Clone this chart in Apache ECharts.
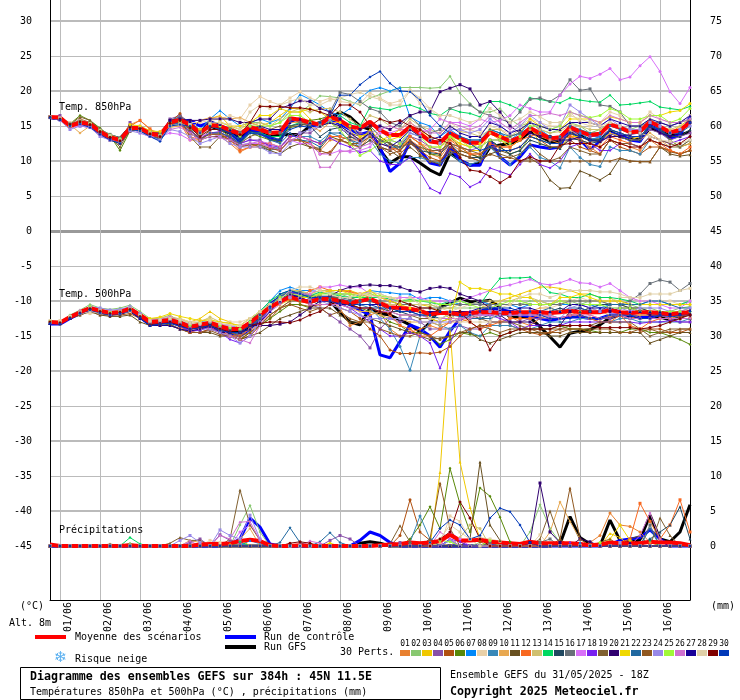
<!DOCTYPE html>
<html>
<head>
<meta charset="utf-8">
<style>html,body{margin:0;padding:0;background:#fff}#chart{width:740px;height:700px}</style>
<script src="https://cdn.jsdelivr.net/npm/echarts@6/dist/echarts.min.js"></script>
</head>
<body>
<div id="chart"></div>
<script>
const dayLabels = ['01/06','02/06','03/06','04/06','05/06','06/06','07/06','08/06','09/06','10/06','11/06','12/06','13/06','14/06','15/06','16/06'];
const leftTicks = [30,25,20,15,10,5,0,-5,-10,-15,-20,-25,-30,-35,-40,-45];
const rightTicks = [75,70,65,60,55,50,45,40,35,30,25,20,15,10,5,0];
const heavyLines = [30,20,10,-10,-20,-30,-40];
const memberIds = ['01','02','03','04','05','06','07','08','09','10','11','12','13','14','15','16','17','18','19','20','21','22','23','24','25','26','27','28','29','30'];
const memberColors = ['#e88030','#88c870','#f0c800','#8850a8','#b05010','#588808','#0088f8','#e8d0a8','#3888b8','#e8a850','#685020','#f86820','#d0c070','#00d860','#204860','#687078','#d870f8','#7820f0','#806030','#300070','#f0d800','#2068a0','#905820','#9888e8','#a0f838','#d070d0','#180098','#e0d0a8','#800000','#0038b8'];

// 850 hPa, one value per 6 h
const t850Mean = [16.3, 16.2,15.0,15.5,15.3, 14.2,13.4,13.0,14.7, 14.7,13.9,13.7,15.5, 15.9,15.2,14.0,15.1, 15.0,14.4,13.9,14.8, 14.5,14.0,14.1,16.1, 15.9,15.5,15.2,16.3, 15.8,14.9,14.7,15.6, 14.4,13.7,13.7,14.9, 13.9,12.8,12.6,14.0, 13.2,12.6,12.6,14.1, 13.5,12.8,13.4,14.7, 14.0,13.2,13.4,14.8, 14.2,13.7,13.9,15.2, 14.8,14.1,14.2,15.6, 14.9,14.1,14.4,15.5];
const t850Control = [16.2, 16,15.2,15.7,15, 14,13.2,12.8,14.5, 14.5,13.8,13.2,15.7, 15.8,15.8,15,15.5, 15,14,12.8,14.5, 14,13.2,12.8,15.8, 16,15,15.2,16, 15.3,14.5,13.8,14.2, 12,8.5,9.7,12.8, 11.6,9.7,9.4,12, 10.1,9.4,9.4,13, 10.6,9.4,10.6,12.3, 12,11.8,12,15.1, 13,11.6,12.8,14, 13.7,13,12.8,15.1, 14.4,13.2,13.7,16.3];
const t850Gfs = [16.2, 16,15.2,15.6,15.4, 14.3,13.6,13.2,14.8, 14.6,13.9,13.6,15.6, 15.6,15,14.2,15, 14.5,14,13.5,14.5, 14,13.5,13.7,13.8, 13.8,15,15.5,16, 17,16.3,15,14.5, 11.6,9.7,10.6,10.6, 9.7,8.7,8,11.1, 10.1,9.4,9.7,12, 12.3,12.5,13,14.2, 13.5,12.8,12.8,14, 13.7,13,13,14.2, 13.5,13.2,13,14.7, 14.2,13.7,13.7,14.2];
const t850M01 = [16.3, 16,15,15.5,15, 14,13.5,13,14.5, 15,14,13.5,15, 15.5,13,13,14, 13.5,12.5,11.3,12, 12,11.8,11.5,13, 13,12.5,11.5,13, 13,12.3,12,13.5, 12,11.5,12,13, 12,11,10.5,12.5, 11.5,11,11,12, 12,12,13,14.5, 13.5,13,12.5,14, 13,12,11,13, 12.5,12,11.5,13, 12,11.5,11,11.5];
const t850M02 = [16.3, 16,15.5,15.5,15.3, 14.5,13.5,13,15, 14.5,14,13.5,15.5, 16,15,13.5,15.5, 15,14.5,14,15.5, 15.5,15,15.5,17, 17,18,19.3,19.2, 19,18.5,18,19, 19.5,20,20.5,20.5, 20.5,20.4,20.5,22.1, 19.7,18.2,17,17, 17.5,16,15,15.5, 14.5,14,14.5,15.5, 15,14,14.5,15.5, 15,14.5,15,16, 15,14,14.5,15];
const t850M03 = [16.3, 16,15,15.5,15.5, 14.5,13.5,13,15, 15,14.3,14,15, 15.5,15,14,16, 16.5,15,14.5,15.5, 15,15.5,16.5,17.5, 17.5,16,15,15.5, 15,14,13,14.5, 13,13,13.5,15, 14.5,13.5,12,13.5, 12,11.5,11.5,14, 13,12,13,15, 12.5,12,12,13.5, 13.5,13,13,14, 13.5,13,13.5,15, 14.5,14,15,16];
const t850M04 = [16.2, 16.5,15.2,15,14.8, 13.8,13,12.5,15.5, 14.5,13.7,13.5,16, 16.5,15.5,13,14.5, 14.5,13.5,12.5,13, 13,12,11.8,13.5, 14,14,15,17, 16,15,14,13.5, 12,11.5,12.5,13.5, 13,12,11.5,12.5, 12,11.5,12,13, 13,13.5,14,15.5, 14.5,13,13,14, 14,13.5,13.5,14.5, 14,13.5,13.5,14.5, 14,13,13.5,14];
const t850M05 = [16.3, 16,15,16,15.5, 14.5,13.5,12.5,14.5, 14.5,13.7,13.5,15.5, 16.8,14,13,14, 14,13.5,12,12.5, 12.5,12,11.5,13, 13,12.5,11,11.3, 13,13.5,13,14, 13,12,11,12.5, 11.5,10.5,10,12, 11,10.5,10,12, 11.5,11.5,12,13.5, 13,12,12,13, 12,11.5,11,13, 12,11.5,11,12, 12,11.5,11,11.5];
const t850M06 = [16.2, 16,15.3,16.5,15.8, 14.7,13.6,11.5,14.3, 14.5,13.8,13.2,15, 15.5,14.5,12.8,14.5, 14.5,13.5,12.5,14, 13.5,13,12.8,14.8, 15,15.8,16,16.5, 16,15,14.5,15, 13.5,12.5,12,13.5, 12.5,11,10.8,13.5, 12,11,10.5,13, 12,11,11.5,13.5, 13,12.5,12.5,14, 13.5,13,13,14.5, 14,13.5,13.5,15, 14.5,13,12,12.5];
const t850M07 = [16.3, 16,15.2,15.6,15.2, 14,13.5,13.2,14.8, 15,14.2,14,15.8, 16.3,15.5,14.5,16, 17.2,16,15,15.5, 16,15.5,16,17.5, 19.5,18.8,18,17, 16.5,17.5,19,20.1, 20.5,20,20.5,16.3, 15.5,15,13.5,14.5, 13.5,13,13,14.5, 14,13,14,15.5, 14.5,13.5,13.5,15, 14,13,13.5,15.5, 14.5,14,14,15.5, 15,14,14.5,15.5];
const t850M08 = [16.3, 16.2,15.5,15.8,15.5, 14.5,13.8,13.2,15, 15,14.2,14.2,15.2, 15.5,15.5,15.5,15.8, 16,16.5,16,18, 19.2,18.5,18,19, 19.9,19,18.5,19, 18.5,18.3,18.2,19.7, 19,18.2,18.6,20.1, 18.2,17.5,16,15.5, 14.5,14.5,14,15, 14.5,14,15,16, 15.5,15,15,17, 15.5,15,15.5,17, 16.5,15.5,15.5,17, 16,15.5,15.5,16.5];
const t850M09 = [16.3, 16,15,15.4,15, 14,13.2,12.8,14.4, 14.5,13.5,13.2,15, 15.2,14.5,13,14, 14,13,12.3,12.5, 12.3,11.5,12,13.5, 13.5,13.5,12.8,14, 13.5,13,12,13, 11,10,9.7,10.5, 10.5,10,9.7,11, 10,9.5,10,12, 10.5,9.5,11,12, 10.5,10,9,12, 10.5,9.5,9.2,12, 11.5,11.5,11,13, 12.5,12,12,13];
const t850M10 = [16.2, 16.2,15.2,14,15, 14.2,13.5,13,15.2, 15.8,14.5,14,14.8, 15,14.5,15.8,16.2, 16.3,16,16.2,15.5, 15,14,14,15.5, 15.5,15,14.3,15.5, 15.5,14.5,12.5,13.5, 12,11.5,12.5,13.5, 12.5,12,12,13, 12.5,12,12.5,14, 13.5,13,13.5,14.5, 14,13,13.5,14.5, 13.5,11.5,12.5,14, 13.5,13,13,14, 13,12,12,12.5];
const t850M11 = [16.3, 16,15,15.5,15.2, 14,13,12.5,14.2, 14.5,13.5,13.5,15.5, 15.7,14,13,13.5, 13.5,13.5,12,12.5, 12,11.5,11,12, 12.5,12,11.8,13.5, 13,12.5,12,13, 12,11.5,10.5,12, 10.8,10,9.5,11, 11.5,11,10.5,11, 11.5,11,10,10.4, 9.5,7.3,6.1,6.2, 8.6,8,7.3,8.2, 10.4,10,9.9,9.9, 12,11,10.7,10.9];
const t850M12 = [16.3, 16,15,15.5,15.2, 14.2,13.3,13,15, 15.8,14.6,13.5,15.2, 15.5,13.5,13,14, 14,13,11.5,12, 12.5,12.5,12,13.5, 13.5,13,12.5,13.5, 13.5,13,13,14, 12.5,12,11.5,13.5, 12.5,11.5,11,13, 12,11,11,12.5, 12,12,13,13.5, 14,13.5,13,13.5, 13,12.5,12,13.5, 13,12.5,12,13, 12.5,11.5,11,12];
const t850M13 = [16.3, 16.2,15.2,15.5,15.3, 14.3,13.6,13.2,14.5, 14.5,14,14,15, 15.2,14.8,14.5,15.2, 15.5,15,14,15, 15.5,15,16,17, 17.5,17,17.5,17.5, 17,16,15,16.5, 16,15,14.5,16, 15,14.5,14,15, 14.2,14,13.5,14.5, 14.5,13.5,14.5,15.5, 14.5,14,14.2,15.2, 15,14.5,14.5,15.5, 15,14.5,14.5,16, 15,14.5,15,15.5];
const t850M14 = [16.3, 16,15.1,15.5,15.2, 14.3,13.5,12.8,14.8, 14.6,13.5,13.5,15.5, 15.5,15,13.5,15, 14.5,14,13,14, 14,13.5,13.5,15, 15.5,15.5,15.5,15.5, 16.5,15.5,15,17.7, 17.5,17.3,17.8,18, 17.5,16.8,16.5,17.5, 17,16.8,16.3,18.5, 18.5,18,17.3,19, 18.8,18.5,18.3,19, 18.7,18.5,18.4,19.4, 18,18.1,18.3,18.5, 17.7,17.5,17.3,17.8];
const t850M15 = [16.2, 16,15,15.2,15, 14,13.2,12.8,14.5, 14.5,13.6,13,15.2, 15.5,15,13.8,15, 14.8,14,12.8,14.2, 14,13,13.2,15, 15.3,15,13.5,14.5, 14.8,13.5,12.8,14, 13,12.5,11.5,13, 11.5,11.2,11,12.5, 11,10.5,10.5,13, 12,11,11.5,13, 12.5,12,11.8,13.2, 13,12.5,12.8,14.5, 13.5,13,13,15, 14.5,13.5,13.5,14.5];
const t850M16 = [16.3, 16,15.3,15.7,15.5, 14.5,13.8,13.3,15, 14.8,14.2,13.8,15.8, 16.3,15.6,14.2,15.3, 15.2,14.7,14.2,15, 14.8,14.2,14,16, 15.5,15.3,15.5,17, 19.8,19.5,18.5,17.5, 17,15.5,15,16.5, 15,14,14.5,17.5, 18,18,17,16.5, 16,15.5,17,18.8, 19,18.5,19.4,21.6, 20.1,20.3,18,17.8, 17,15,15,15.5, 15.5,15,15.5,16];
const t850M17 = [16.3, 16,14.8,15,14.8, 13.8,13,13,14.8, 14,13.5,13.5,14, 13.8,13,13.5,14, 13.5,13,12,12.5, 12.5,12,11.5,13, 12.5,12.5,11,11, 11.5,11.3,11.5,12, 14,14,14.5,14.5, 14,14.5,16,15.5, 15.5,15,16,15.5, 15.8,16.5,18,17.5, 17,17,19.4,21, 22.1,21.8,22.4,23.2, 21.6,22,23.6,24.9, 22.8,19.9,18.2,20.5];
const t850M18 = [16.3, 16.2,15,15.3,15, 14,13.2,13,14.5, 14.8,14,13.5,15.6, 15.2,14.3,13.2,14, 14.2,13.2,12.5,13, 12.8,12.2,12,13.5, 13.5,13,12.5,13.3, 12.5,12,11.2,11.5, 10,9.5,9.5,10.5, 8.5,6.1,5.4,8.2, 7.7,6.3,7,9, 8.5,8,9.5,11, 9.5,9,10,12, 12.5,12.5,11.5,11.5, 12.5,12.5,12,13.5, 13,12.5,13,13.5];
const t850M19 = [16.3, 16,15.2,16.3,15.8, 14.5,13.5,12,14.5, 14.7,13.8,13.5,14.8, 16,13.5,12,12, 13.5,13,12.5,13.5, 14,14.5,15,15, 15,15.5,15,15.5, 14.5,14,13.5,14, 13,12.5,12,12.5, 12,11.5,11.5,12.5, 12,11.5,11,12, 11,10.5,11,12.5, 11,10,10.5,12, 11.5,11,11,13, 12.5,12.5,12,13.5, 13,12.5,12,13];
const t850M20 = [16.3, 16,15.2,15.5,15.3, 14.3,13.4,13.2,15, 14.5,14,14,15.8, 16,15.8,15.8,16, 16,16,15.5,15.5, 16,16,17.5,18, 18.6,18.5,17.5,17, 16,15,14.5,15, 15,14.5,15.5,16.5, 17,17,19.9,20.4, 20.9,20.3,18,18.5, 17,15,14,14, 13.5,13.5,13,13, 13.5,13,12.8,13.5, 13.5,13.8,14,15, 14,13.5,14,15.5];
const t850M21 = [16.3, 16.1,15,15.6,15.4, 14.4,13.5,13,15.2, 15,14.3,14.2,15.5, 15.8,15.2,14.5,15.2, 15.6,15,15,15.5, 16.5,16.5,17.5,17, 17,17.5,17,16, 15.5,15,13.5,14, 13,13.5,14.5,15.5, 14.5,13,12.5,13.5, 12.5,12,12.5,14.5, 13.5,13.5,14,16, 15,14.5,14.5,16, 16,16,15.5,16.3, 16,15.5,15.5,16.5, 16.5,17,17.2,18.2];
const t850M22 = [16.2, 16,15.1,15.4,15, 13.8,13,12.8,14.4, 14.3,13.5,13,15, 15.5,14.7,13,14, 14,13.5,12.5,14, 14,13,12.5,14, 13,12.8,12,14, 14,13,12.5,14, 13,12,12,14, 13.5,13,12.8,14, 13.5,13,13,14.5, 14,13.5,14,14.8, 14,13.5,13.5,15, 14.5,14,14,15, 14.5,14,14,15, 14.5,14,14,15];
const t850M23 = [16.3, 16,15,15.5,15.3, 14,13.2,12.8,14.3, 14.5,13.8,13.2,15.5, 15.7,14.5,13.2,13.8, 13.8,13,12,12.3, 12.3,11.8,11.5,13, 13,12,11.5,11, 13,12.5,12.5,13.5, 12,11,11.5,13, 11,10,10,11.5, 11,10.5,10,11, 10.5,10.5,10,10, 10,10,10,10, 10,10,10,10, 10.4,10,9.9,9.9, 12,11.3,11,11.5];
const t850M24 = [16.2, 15.8,14.5,15,14.8, 13.5,13,12.8,14.3, 14,13.5,13,14.5, 14.2,13.5,12.5,13, 13.5,12.5,12,12, 12,11.2,11,12.5, 14,14.5,15,15.8, 14.5,14,12.5,14, 14.5,13,12.5,14, 13.5,13,12.5,14.5, 14.5,14,14.5,16, 15,14,15,16.5, 15.5,14.5,15,18, 17,16,15,16, 15,14.5,14.5,15.5, 15,14,14.5,15];
const t850M25 = [16.3, 16.1,15.2,15.6,15.4, 14.4,13.7,13.2,14.8, 14.5,14,13.8,15.5, 15.7,15.2,14,15.2, 15,14.5,13.5,15, 15,15,15.5,16.5, 16.5,15.5,15,15.5, 14.5,12.5,10.8,11.5, 12.5,13,12.5,14.5, 13.5,12,12,13.5, 13,12,12,13, 13,12.5,13.5,15, 15,14.5,15,17, 16.5,16.2,16.5,17.5, 17,16,16,16.5, 16.5,15.5,16,17.5];
const t850M26 = [16.3, 16.2,15,15.2,14.8, 13.7,13,13,14.5, 14.5,13.8,13.5,14.5, 14.8,14,13,13.5, 13.3,13,12.3,12.5, 12.8,12.5,12,13, 13.5,13,9.1,9.1, 11.3,11.5,12,12.5, 14.5,15,14.5,15.5, 14.5,14,14,15.5, 15,14.5,15,16.5, 15.5,14.5,15.5,16.5, 16.5,16.8,16.5,17, 16.5,16,15.5,16.5, 16,15.5,15.5,16.5, 16,15.5,15.5,16];
const t850M27 = [16.3, 16,15.2,15.6,15.3, 14.2,13.3,13,14.7, 14.6,14,13.7,15.7, 16,15.6,14.2,15.8, 15.2,14.5,13.2,14.5, 15,14.5,14.5,15.5, 16,15.5,15,15.5, 15,14,13,14, 12.5,12,13,14.5, 13.5,13,13.5,15, 14,13.5,13.5,15.5, 15,14,14.5,15.5, 15,14.5,14.5,15.5, 15.5,15.5,15,16, 15.5,15,15,16, 15.5,15,15.5,16.5];
const t850M28 = [16.3, 16.1,15.1,15.5,15.3, 14.3,13.6,13,14.6, 14.3,14,13.6,15, 15.3,15.2,14,15.4, 15.5,15.2,14.5,17, 18,17.5,18,18.5, 19,18,18,18.7, 19,19.5,19.8,19.2, 18.8,18,18,20, 19,17.5,16.5,16.5, 16,15.5,16,17.5, 16.5,15.5,16,17, 16.3,15.5,15.5,16.5, 16,15.5,15,15.5, 15,14,14,13.5, 13,12.8,12.5,13];
const t850M29 = [16.3, 16,15.2,15.6,15.2, 14.2,13.4,12.9,14.8, 14.6,13.9,13.5,15.4, 15.8,14.8,13.5,14.5, 14.5,14,13.8,15.5, 17.8,17.8,17.8,17.6, 17.6,17.4,17,16.5, 18,18,17,15, 16,15.5,15.8,15, 14.5,13.5,13,12.5, 10.5,8.7,8.5,7.8, 6.9,7.8,10,10.6, 10,10,12.3,12.5, 12.5,12.5,12,13, 12.5,12,12,13, 12.5,12,12.5,13.5];
const t850M30 = [16.2, 15.9,15,15.3,14.8, 13.8,13,12.5,14.5, 14.3,13.5,12.8,15, 15.2,15,14,15, 14.5,14,13,14, 13.8,13.5,13,14.5, 15,14.8,15.5,16.5, 19.4,19.4,20.9,22, 22.8,21.1,20,19.9, 18.7,16.5,15,14, 13.5,12.5,11.5,12, 11.5,11.5,12,13.5, 13,12.5,12.5,14, 13.5,13,13,14.5, 14,13.5,13.5,15, 14.5,14,14,15.5];

// 500 hPa
const t500Mean = [-13, -13.1,-12.3,-11.6,-11, -11.4,-11.7,-11.6,-11.1, -12,-13,-12.9,-12.7, -13.1,-13.7,-13.4,-13.1, -13.6,-14,-14,-13.1, -12,-10.9,-10.1,-9.4, -9.9,-10.1,-9.7,-9.7, -10,-10.3,-10,-9.7, -10.3,-10.9,-11,-11.1, -11.4,-11.9,-11.7,-11.7, -11.9,-11.7,-11.6,-11.6, -11.7,-11.7,-11.6,-11.6, -11.6,-11.7,-11.6,-11.4, -11.6,-11.6,-11.6,-11.3, -11.6,-11.7,-11.6,-11.6, -11.7,-11.9,-11.7,-11.6];
const t500Control = [-13.3, -13.3,-12.5,-11.8,-11.2, -11.6,-11.9,-11.7,-11.3, -12.3,-13.4,-13,-12.9, -13.5,-14,-13.5,-13.6, -14,-14.6,-15,-14, -12.5,-10.5,-9.5,-8.7, -9,-9.5,-9.5,-9.5, -10,-10.5,-11.3,-12, -17.7,-18.1,-15.8,-13.4, -14,-15,-16.6,-14.3, -12.5,-12,-11.5,-11, -11.2,-11.5,-12,-12.2, -12.5,-12.8,-12.5,-12.3, -12.3,-12.5,-12.5,-12, -12,-12,-12.3,-12.3, -12,-12,-12,-11.5];
const t500Gfs = [-13.2, -13.2,-12.4,-11.7,-11.1, -11.5,-11.8,-11.6,-11.2, -12.1,-13,-13,-12.8, -13.2,-13.8,-13.5,-13.3, -13.8,-14.2,-14.5,-13.8, -12.2,-10.5,-9.5,-8.8, -9.8,-10.2,-9.8,-10, -11.6,-13,-13.4,-11, -11.8,-12,-12.7,-13.4, -14.4,-13.1,-10.9,-10.3, -9.6,-10.1,-10.1,-9.9, -10.9,-12.3,-12.4,-12.3, -13.7,-15.1,-16.6,-14.6, -14.3,-14.1,-13.4,-12.4, -12,-12.3,-12.4,-12.3, -12.3,-12.7,-12.3,-11.7];
const t500M01 = [-13, -13,-12.2,-11.5,-11.1, -11.5,-11.6,-11.4,-11, -12,-13.1,-13,-12.5, -13.5,-14.2,-14,-13.8, -14.2,-15,-15.5,-14.5, -13,-11,-10,-9.5, -10,-10.5,-9.5,-9.8, -11,-13.5,-13,-12, -11.5,-14,-15,-14.5, -14,-13.5,-14,-13, -12.5,-12,-12,-11.5, -11.8,-12.2,-13,-13.5, -12.5,-12,-11.5,-12, -11.5,-12,-12.5,-12.2, -12,-12.5,-12,-12, -12,-12.5,-12.2,-12];
const t500M02 = [-13, -13,-12,-11.3,-10.5, -11,-11.2,-11,-10.6, -11.5,-12.5,-12.5,-12, -13,-13.5,-13,-12.5, -13.5,-13.7,-13.5,-12.5, -11.5,-10,-9.2,-8.5, -8.7,-9,-9,-8.8, -9,-9.5,-9,-8.7, -9,-9.5,-10,-10.5, -10.5,-10.5,-11,-11, -11,-11,-11,-10.5, -10.5,-10.5,-10.5,-10, -10,-10.5,-10,-10, -10.5,-10,-10,-10.5, -10.5,-10.5,-11,-11, -11.5,-11.5,-11,-10.8];
const t500M03 = [-13, -13,-12.4,-11.6,-11.2, -11.5,-11.8,-11.8,-11.2, -12.2,-13,-12.8,-12.5, -12.5,-13,-12.5,-11.5, -12.5,-13,-14,-13, -12,-11,-10.5,-9.8, -10,-10,-9,-8.5, -8.5,-8.5,-9,-9, -9.5,-10,-10.5,-10.5, -10.5,-10.8,-11.5,-12.5, -12.5,-12,-11,-10.5, -10,-9.5,-9,-8.5, -8,-8,-8.2,-8.5, -9,-9,-9.5,-9.5, -10.5,-11,-11,-11.5, -11.5,-11.5,-11.5,-11];
const t500M04 = [-13.2, -13.2,-12.5,-11.8,-11.3, -11.6,-11.9,-11.7,-11.4, -12.2,-13.5,-13.2,-13, -13.5,-14.5,-14.5,-14, -14.5,-15,-14.8,-14, -12.5,-11,-10,-9, -9.5,-10.5,-11,-12, -13,-14,-15,-16.7, -14,-12.5,-13,-12.5, -13,-14,-14,-14, -13.5,-14,-14,-13, -13,-13,-13,-12.5, -12.5,-12.5,-12.5,-12, -12,-12.5,-12.5,-12.5, -12,-12.5,-12.5,-12.5, -12,-12.5,-13,-13];
const t500M05 = [-13, -13.2,-12.5,-12,-11.5, -12,-12,-12,-11.8, -12.5,-13.2,-13.5,-13.5, -14,-14.5,-14.5,-14, -14.5,-15,-15.5,-15, -13.5,-12.5,-11,-10.5, -10.5,-10.8,-10.5,-10.5, -11,-11.5,-12.5,-14, -15,-17,-17.5,-17.5, -17.4,-17.5,-17.3,-16.5, -15,-14,-13.5,-13.5, -13.5,-13.5,-14,-14.5, -14.8,-14.5,-14,-14, -14,-14.5,-14.5,-14.5, -14.5,-14.5,-14.5,-14, -14,-14.5,-14.5,-14];
const t500M06 = [-13, -13,-12.3,-11.5,-11, -11.4,-11.7,-11.4,-11.1, -12,-13,-13,-12.8, -13.2,-13.7,-13.7,-13.2, -14,-14.8,-15.5,-14.5, -13.5,-12.5,-11.5,-10.5, -10.5,-11,-10,-10, -10.5,-10.5,-11,-11.5, -12,-13,-13.5,-14.5, -14.5,-15,-16.2,-15.5, -14.5,-14.8,-15,-14.5, -15,-14.5,-14,-14, -14,-14,-13.5,-14, -14,-14.2,-14.5,-14.5, -14.5,-14,-14,-14.5, -14.5,-15,-15.5,-16.2];
const t500M07 = [-13.2, -13.2,-12.4,-11.7,-11.2, -11.5,-11.8,-11.7,-11.3, -12.1,-12.8,-12.8,-12.6, -13,-13.5,-13,-13, -13.3,-13.5,-14,-13, -11.5,-10,-8.5,-8, -8.5,-8.5,-8.7,-9, -9,-9,-9.3,-8.5, -8.7,-8.8,-9,-9, -9.8,-9.5,-9.5,-10, -10.5,-10.5,-10,-10.5, -10.5,-10.5,-11,-10.5, -10.5,-10.5,-10.5,-10.5, -10.5,-10.5,-11,-10.5, -10.5,-10.5,-10.5,-10, -10,-10.5,-10.5,-10];
const t500M08 = [-12.8, -12.8,-12.2,-11.8,-11.8, -11.7,-12,-11.8,-11.4, -12.2,-12.7,-12.6,-12.4, -12.5,-13,-12.8,-12.6, -13.2,-13,-13,-12.5, -11.5,-11,-10,-9, -9,-9,-8.5,-8.5, -8.5,-8.8,-9,-8.8, -9,-9.5,-9.5,-9.5, -10,-10,-11,-11.5, -11,-10.5,-10.5,-11, -10.5,-10.5,-10.5,-10.5, -10.5,-11,-10.5,-10, -9.5,-10,-10,-10, -9.5,-9.5,-10,-10, -10,-10,-10.5,-10];
const t500M09 = [-13, -13,-12.3,-11.7,-11.2, -11.6,-11.8,-11.7,-11.2, -12.3,-13,-13.2,-13, -13.6,-14,-13.8,-13.5, -14,-14.5,-14.6,-14, -12.5,-11,-10,-9.5, -9.8,-10,-9.5,-9.8, -10,-10,-10.5,-11, -12.5,-14,-16.5,-19.9, -15,-13,-13.5,-14, -13.5,-14.5,-15,-13.5, -13.5,-13.5,-14,-14, -13.5,-13,-13,-13, -12.5,-12.5,-13,-13, -12.5,-12.5,-13,-13, -13,-13,-13,-12.5];
const t500M10 = [-13, -13,-12.3,-11.4,-11, -11.4,-11.8,-11.5,-11.2, -12,-12.8,-12.8,-12.8, -13,-14,-14,-13.5, -14,-14.5,-15,-14, -13,-12,-11,-10, -9.5,-10,-10,-10, -10.5,-11,-11.5,-11.5, -12,-12.5,-12.5,-13, -13,-13,-13.5,-13, -13,-12.5,-12,-11.5, -12,-12,-12,-11.5, -11,-11,-11.5,-11.5, -11.5,-11,-11.5,-12, -12,-12,-12,-12, -12,-12,-12,-12];
const t500M11 = [-13, -13.3,-12.5,-12,-11.5, -12,-12.2,-12.2,-12, -13,-13.5,-13.5,-13.3, -14,-14.5,-14.5,-14.5, -15,-15,-15.5,-15, -14.5,-13.5,-12.5,-12, -11.5,-11,-11,-11, -12,-13,-13,-12.5, -13,-13.5,-14,-14.5, -15,-15.5,-15.3,-15, -14.5,-14.5,-15.5,-16, -15.5,-15,-14.5,-14.5, -14.5,-15,-15,-14.5, -14.5,-14.5,-14.5,-14.5, -14.5,-14.5,-14.5,-16, -15.5,-15,-14.5,-14.5];
const t500M12 = [-13.1, -13.1,-12.3,-11.7,-11.2, -11.4,-11.7,-11.6,-11.1, -12.2,-13.3,-13.2,-13, -13.7,-14.5,-14,-13.8, -14.5,-15,-15,-14, -12.5,-11,-10,-9.8, -9.5,-8.5,-8,-8.5, -8.5,-8.7,-9,-9.5, -11,-12,-13.5,-14, -15,-15,-14,-13, -12.5,-13,-14,-13.5, -13,-12.5,-12.5,-12.5, -12,-12,-12.5,-12, -12,-12.5,-13,-13, -12,-13.5,-14,-13, -12.5,-12.5,-12.5,-12.5];
const t500M13 = [-13, -13,-12.2,-11.5,-11, -11.3,-11.6,-11.3,-11, -11.8,-12.6,-12.4,-12.2, -12.6,-13.2,-13,-12.3, -13,-13.2,-13.5,-12.5, -11.5,-10.5,-9.5,-8.5, -8.5,-9,-8.5,-8.5, -9,-9,-9.5,-9.5, -10,-10.5,-10.5,-10.5, -10.5,-10.5,-11,-11, -10.5,-10.5,-10,-10, -10,-10,-9.5,-9.5, -10,-10.5,-10,-10, -10,-10,-10,-10, -10,-10.5,-10.5,-10.5, -10.5,-10.5,-10.5,-10.5];
const t500M14 = [-13, -13.1,-12.2,-11.5,-10.8, -11.3,-11.6,-11.4,-11, -11.8,-12.8,-12.7,-12.5, -13,-13.5,-13.2,-13, -13.5,-14,-14,-12.8, -11.5,-10,-9,-8.5, -9,-9.3,-8.7,-9, -9.3,-9.5,-9.5,-9.5, -9.5,-9.7,-10,-9.8, -10,-10.2,-10.5,-10, -10,-10.5,-10.5,-8.5, -6.8,-6.7,-6.7,-6.6, -7.5,-8.8,-9,-9.5, -9.5,-9,-9.5,-9.5, -9.7,-10,-10.5,-10.5, -10.5,-10.5,-10.5,-10];
const t500M15 = [-13.2, -13.2,-12.4,-11.8,-11.3, -11.7,-12,-11.9,-11.5, -12.5,-13.4,-13.3,-13.2, -13.4,-14,-13.8,-13.6, -14.2,-14.6,-14.5,-14, -12.5,-11,-9.5,-9, -9.3,-9.5,-9.5,-9.8, -10.3,-11,-11,-11, -11,-11.5,-11.5,-12, -12,-12.3,-12.5,-12.5, -12.5,-12.5,-12.5,-12, -12,-12,-12,-12, -12,-11.5,-11,-11.5, -11.5,-11,-10.5,-10.5, -10.5,-11,-11,-11.5, -11.5,-12,-12.5,-12.5];
const t500M16 = [-13, -13.1,-12.4,-11.8,-11.4, -11.7,-11.9,-11.8,-11.3, -12,-12.8,-12.7,-12.6, -13,-13.2,-13.3,-13, -13.7,-14,-14.2,-13.5, -12.2,-11,-10.2,-9, -8.8,-9.2,-9.3,-9.3, -9.5,-9.8,-10,-10, -10,-10,-10.5,-10.5, -11,-11,-11,-10.5, -10.5,-10.5,-10.5,-10.5, -10.5,-10.5,-10.5,-10.5, -10.5,-10.5,-10.5,-10, -10,-10,-10,-10.5, -10.5,-10,-9,-7.5, -7,-7.3,-8.5,-7.5];
const t500M17 = [-13, -13,-12.2,-11.4,-10.9, -11.2,-11.5,-11.3,-10.9, -11.8,-12.7,-12.6,-12.3, -12.8,-13.3,-13.2,-13, -13.3,-13.5,-14,-13, -12,-11,-10,-9.2, -9,-9,-8,-8, -7.7,-8,-8,-9, -9.5,-10,-9.5,-9.5, -9.5,-10,-10,-10, -10,-9.5,-9,-8.5, -8,-7.7,-7.3,-6.9, -7.5,-7.7,-7.4,-6.9, -7.4,-7.5,-8,-7.5, -8.5,-9.5,-10,-10, -10.5,-11,-11,-10];
const t500M18 = [-13, -13.2,-12.5,-11.8,-11.5, -11.6,-12,-11.8,-11.4, -12.3,-13.3,-13.3,-13.1, -13.6,-14.3,-14.2,-13.7, -14.5,-15.5,-16,-15, -13,-11,-9.5,-8.7, -9,-9.5,-10,-10, -10.5,-11,-12,-13, -14,-15,-15,-14.5, -15,-16,-19.6,-16, -13,-11.5,-12,-12, -12.5,-13,-14,-13.5, -13.5,-13.5,-13.5,-13, -13,-13,-13,-13, -13,-13,-13.2,-13, -13,-12.8,-13,-13];
const t500M19 = [-13, -13,-12.2,-11.6,-11, -11.3,-11.6,-11.5,-11, -11.8,-12.8,-12.7,-12.4, -12.8,-13.5,-13.5,-13.3, -13.8,-14.5,-15,-14.5, -13.5,-12,-11,-10, -10,-10,-9.5,-9.5, -9.5,-9.5,-10,-10, -10.5,-11.5,-12,-12, -12.5,-12.5,-13,-12.5, -11.5,-12,-12.5,-13, -13,-13,-13.5,-14, -14,-14,-14,-13.5, -13.5,-13.5,-13,-13, -13,-13,-14,-15, -14.5,-14,-14,-14];
const t500M20 = [-13.2, -13.2,-12.5,-11.8,-11.2, -11.7,-12,-11.8,-11.5, -12.4,-13.3,-13.2,-13, -13.5,-14,-13.8,-13.4, -14.5,-14.5,-14.5,-13.5, -13.5,-13.5,-13.3,-13, -12,-11,-10,-9.3, -8.5,-8,-7.8,-7.7, -7.8,-7.8,-8,-8.5, -8.7,-8.2,-8,-8.2, -9,-9.5,-10,-11, -12,-13,-13,-13, -13.5,-13.5,-13.5,-11.5, -11,-11.5,-11.5,-11.5, -11,-11,-11.5,-12, -12,-12,-12,-12];
const t500M21 = [-13, -13,-12.3,-11.5,-11, -11.2,-11.5,-11.4,-11.2, -12,-12.5,-12.3,-11.8, -12.2,-12.5,-12.8,-12.7, -13,-13.2,-13.5,-12.5, -11.5,-10.5,-10,-9.5, -9.5,-9.5,-9,-8.5, -8.5,-9,-9,-8.5, -9.5,-10,-10.5,-11, -11.5,-12.5,-13,-12.5, -7.3,-8.2,-8.2,-8.5, -9,-9,-9.5,-9.5, -10.5,-10.5,-9.5,-9.5, -9,-9.5,-10,-10, -10,-10.5,-10.5,-10.5, -10.5,-10.5,-10.5,-10.5];
const t500M22 = [-13.1, -13.2,-12.4,-11.7,-11.2, -11.6,-11.8,-11.7,-11.4, -12.2,-13.2,-13,-12.8, -13.2,-13.7,-13.6,-13.2, -13.8,-14.2,-14.2,-13.5, -12.5,-11,-9.5,-8.5, -9,-9.5,-9.5,-9.5, -9.7,-10,-10,-10, -10.5,-11,-11.5,-11.5, -12,-12,-12.5,-12, -12.2,-12.5,-12.5,-12.5, -12,-12,-12,-11.5, -11.5,-11,-11.5,-11, -11,-11.5,-11.5,-10.5, -10.5,-10.5,-10.5,-10, -10,-10.5,-11,-11];
const t500M23 = [-13, -13,-12.4,-11.7,-11.2, -11.7,-12,-11.8,-11.3, -12,-13.3,-13.5,-13.5, -14,-14.5,-14.5,-14.2, -14.8,-15,-15.5,-14.5, -13.5,-12,-11,-10.5, -11,-11.5,-11,-12, -11.5,-12.5,-13,-13, -14,-14.5,-15,-15, -14.5,-15,-15.5,-15, -14.5,-14,-13.5,-14, -14.5,-14,-14,-14, -14.5,-14.5,-14.5,-14, -14,-14,-14,-14, -14.5,-14.5,-14,-14, -14.5,-14.5,-14,-14];
const t500M24 = [-13.1, -13.1,-12.3,-11.6,-10.8, -11,-11.3,-11.2,-10.8, -11.8,-13,-13,-12.8, -13.2,-14,-14,-14, -14.5,-15,-16,-15, -13,-11.5,-10,-9.5, -9.5,-10,-10,-10.5, -11,-11.5,-12,-12.5, -12.5,-12.5,-12.5,-12.5, -13,-13,-13,-13, -12.5,-12,-12,-11.5, -11.5,-12,-12,-12, -12,-12,-12.5,-11, -10.5,-11,-11.5,-11, -11,-11.5,-11,-11, -11,-11.5,-11.5,-11];
const t500M25 = [-12.9, -13,-12.2,-11.5,-10.8, -11.3,-11.6,-11.4,-11, -12,-13,-12.7,-12.5, -13,-13.5,-13.2,-13, -13.5,-13.8,-14,-13, -12,-10.5,-9.5,-9, -9.2,-9.5,-9,-9, -9,-9,-9.5,-9, -9.3,-9.5,-10,-10, -10,-10,-10.5,-10.5, -10,-10.5,-11,-11, -10.5,-10,-10,-10.5, -10.5,-10.5,-10,-10.5, -10.5,-10.5,-10.5,-11, -11,-11,-11.5,-11.5, -11.5,-11.5,-11.5,-11.5];
const t500M26 = [-13, -13.1,-12.3,-11.5,-11, -11.3,-11.7,-11.4,-11, -12,-13,-12.8,-12.6, -13.1,-13.8,-13.5,-13, -13.8,-15,-15.5,-16, -13.5,-11.5,-10.5,-9.5, -9.7,-10.5,-10.5,-10.5, -10.5,-11,-11,-11, -11.5,-11.5,-12,-12, -12,-12.5,-12.5,-12.5, -12.5,-12.5,-12,-12, -12,-12,-12,-12, -12,-12.3,-12.5,-12, -12,-12,-12.5,-12, -12,-12.5,-12.5,-12.5, -12.5,-12.5,-12.5,-12.5];
const t500M27 = [-13.2, -13.2,-12.5,-11.8,-11.3, -11.6,-12,-11.8,-11.5, -12.5,-13.5,-13.5,-13.5, -14,-14.3,-14,-13.6, -14,-14.5,-14.5,-14, -13,-11.5,-10,-9, -9.5,-10,-10,-10, -10.5,-10.5,-10.5,-10.5, -10.5,-11,-11,-11.5, -11.5,-11.5,-11.5,-11.5, -11.5,-11.5,-11,-11, -11.2,-11.5,-11,-11, -11.5,-11.5,-11.5,-10.5, -10.5,-11,-11,-11, -11.5,-11.5,-11.5,-11.5, -11.5,-11.8,-11.8,-11.3];
const t500M28 = [-13, -12.9,-12.2,-11.8,-11.5, -11.7,-11.9,-11.7,-11.5, -12.1,-12.8,-12.7,-12.5, -12.7,-13.2,-13.2,-12.8, -13.2,-13.5,-13.5,-12.5, -11.5,-10.5,-9.8,-8.5, -8,-8,-8.5,-9, -9.5,-9.5,-9,-9.2, -9.5,-9.5,-10,-9.5, -10.5,-12.5,-12.5,-12, -13,-13,-13,-13, -11,-10.5,-9.5,-9, -9,-9.5,-9,-8.5, -8.5,-8.5,-8.7,-8.7, -9,-9.5,-9.5,-9, -9,-9,-8.5,-8.2];
const t500M29 = [-13, -13.1,-12.4,-11.7,-11.1, -11.5,-11.8,-11.6,-11.2, -12.2,-13.4,-13.2,-13, -13.4,-14,-13.8,-13.5, -14,-14.4,-14.5,-13.5, -13.2,-13,-13,-13.1, -12.7,-12,-11.5,-10.5, -10,-10.5,-11,-11, -11.5,-11.8,-10,-10.5, -11,-11,-11.5,-12, -11.5,-13,-14,-17, -15,-14.5,-14,-14, -14,-14,-13.5,-13.5, -13.5,-13.5,-13.8,-13.8, -13.8,-13.8,-14,-13.8, -13.5,-13,-12.5,-12];
const t500M30 = [-13.2, -13.3,-12.5,-11.8,-11.3, -11.7,-12,-11.8,-11.4, -12.4,-13.5,-13.3,-13.2, -13.6,-14,-13.8,-13.5, -14.2,-14.5,-14.5,-13.5, -12,-10.8,-9,-8.5, -9,-9.5,-9.5,-10, -10.3,-10.5,-10.5,-10.5, -11,-11,-11.5,-11.5, -12,-12,-11.5,-11.5, -12,-12,-11.5,-11, -11,-11,-11.5,-11.5, -12,-12.5,-12.5,-12.5, -12,-12.5,-12.5,-12, -12,-12,-12.5,-12.5, -12,-12.2,-12,-11.5];

// precipitation, only the 6 h steps with rain: [step, mm]
const rainMean = [[0,0.2],[8,0.1],[15,0.2],[16,0.3],[17,0.3],[18,0.4],[19,0.7],[20,0.9],[21,0.7],[22,0.1],[25,0.1],[33,0.1],[34,0.2],[35,0.3],[36,0.5],[37,0.4],[38,0.5],[39,0.7],[40,1.6],[41,0.8],[42,0.8],[43,0.9],[44,0.6],[45,0.5],[46,0.4],[47,0.3],[48,0.6],[49,0.4],[50,0.4],[51,0.4],[52,0.4],[53,0.3],[54,0.1],[55,0.2],[56,0.5],[57,0.4],[58,0.4],[59,0.4],[60,0.6],[61,0.5],[62,0.5],[63,0.4],[64,0.1]];
const rainControl = [[18,0.2],[19,1],[20,4],[21,2.7],[22,0.3],[31,0.8],[32,2],[33,1.5],[34,0.5],[56,0.2],[57,0.8],[58,1],[59,1.2],[60,2.3],[61,1]];
const rainGfs = [[31,0.4],[32,0.6],[33,0.4],[51,0.3],[52,4.2],[53,1.2],[54,0.3],[56,3.7],[57,0.8],[58,0.5],[59,0.9],[60,4.4],[61,1],[62,0.6],[63,2],[64,5.9]];
const rainM01 = [[54,0.5],[55,1.5],[56,4.7],[57,3],[58,2.8],[59,2],[60,0.5]];
const rainM02 = [[8,0.4],[19,3],[20,5.8],[21,2],[43,0.5],[44,1],[48,2],[49,5.9],[50,2.5],[51,0.5]];
const rainM03 = [[18,0.3],[19,1],[39,10.5],[40,31],[41,12],[42,5.5],[43,1],[56,1.8],[57,1.2]];
const rainM04 = [[14,0.5],[15,1],[17,1.6],[18,0.8],[19,0.5],[28,0.8],[29,1.5],[30,1],[35,0.5]];
const rainM05 = [[35,1.5],[36,6.6],[37,2],[38,0.8],[42,1],[43,0.6]];
const rainM06 = [[36,1],[37,3],[38,5.6],[39,2.5],[40,11.1],[41,6],[42,2],[43,8.3],[44,7.1],[45,4.1],[46,0.6]];
const rainM07 = [[20,0.8],[21,0.3],[40,1],[53,0.5]];
const rainM08 = [[16,0.8],[17,0.5],[40,4.3],[41,3.5],[42,1],[43,1.2],[44,1],[45,0.7],[49,1.6]];
const rainM09 = [[36,0.5],[37,4.3],[38,1],[60,1]];
const rainM10 = [[14,0.8],[15,0.5],[19,1],[20,2.5],[39,0.5],[50,2],[51,6.3],[52,3.5],[53,1]];
const rainM11 = [[42,1],[43,12],[44,3],[45,0.8],[58,1],[59,1.5]];
const rainM12 = [[57,0.5],[58,1],[59,6.1],[60,3.5],[61,1],[62,3],[63,6.6],[64,2]];
const rainM13 = [[38,0.5],[41,1.2],[42,3],[43,2.5]];
const rainM14 = [[8,1.2],[9,0.3],[19,0.6],[40,0.8],[60,0.8]];
const rainM15 = [[60,1],[61,2],[62,3],[63,5.6],[64,1]];
const rainM16 = [[44,0.5],[49,0.5],[50,1],[60,3]];
const rainM17 = [[19,2],[20,3],[21,1],[40,2],[41,1]];
const rainM18 = [[40,1],[41,0.6],[52,0.5]];
const rainM19 = [[6,0.3],[12,0.4],[13,1.2],[14,0.8],[15,0.8],[18,1],[19,8],[20,3],[21,0.8],[34,0.3],[35,2.9],[36,0.6],[49,1],[50,5],[51,1],[61,4],[62,1.5]];
const rainM20 = [[48,0.5],[49,9],[50,2],[51,0.5],[53,1],[54,0.6]];
const rainM21 = [[28,0.4],[56,1],[57,3],[58,0.8]];
const rainM22 = [[23,0.5],[24,2.6],[25,0.5],[27,0.6],[28,1.9],[29,0.5],[38,1],[60,2.5]];
const rainM23 = [[38,1],[39,9],[40,2.5],[51,1],[52,8.3],[53,1],[55,0.5],[56,1]];
const rainM24 = [[13,0.8],[14,1.5],[15,0.5],[17,2.3],[18,1.5],[19,1],[20,4.4],[21,1],[40,0.8],[57,0.5]];
const rainM25 = [[39,0.8],[40,0.6],[44,0.8],[55,0.5]];
const rainM26 = [[14,0.7],[17,1.5],[18,1],[19,3.4],[20,3.5],[21,0.8],[26,0.7],[27,0.4],[39,2],[40,1],[59,1.5],[60,4.7],[61,1]];
const rainM27 = [[48,0.5],[58,0.5]];
const rainM28 = [[39,1],[40,3],[41,2],[42,1]];
const rainM29 = [[24,0.4],[25,0.6],[26,0.4],[39,1],[40,2],[41,6.3],[42,4],[43,1]];
const rainM30 = [[38,0.5],[39,2.5],[40,3.7],[41,3],[42,1],[43,1.5],[44,4],[45,5.4],[46,4.9],[47,3],[48,0.5]];

const t850Perts = [t850M01,t850M02,t850M03,t850M04,t850M05,t850M06,t850M07,t850M08,t850M09,t850M10,t850M11,t850M12,t850M13,t850M14,t850M15,t850M16,t850M17,t850M18,t850M19,t850M20,t850M21,t850M22,t850M23,t850M24,t850M25,t850M26,t850M27,t850M28,t850M29,t850M30];
const t500Perts = [t500M01,t500M02,t500M03,t500M04,t500M05,t500M06,t500M07,t500M08,t500M09,t500M10,t500M11,t500M12,t500M13,t500M14,t500M15,t500M16,t500M17,t500M18,t500M19,t500M20,t500M21,t500M22,t500M23,t500M24,t500M25,t500M26,t500M27,t500M28,t500M29,t500M30];
const rainPerts = [rainM01,rainM02,rainM03,rainM04,rainM05,rainM06,rainM07,rainM08,rainM09,rainM10,rainM11,rainM12,rainM13,rainM14,rainM15,rainM16,rainM17,rainM18,rainM19,rainM20,rainM21,rainM22,rainM23,rainM24,rainM25,rainM26,rainM27,rainM28,rainM29,rainM30];

const font = 'DejaVu Sans Mono';
const stepCount = 65;

// step 1 is 01/06 00Z, then one label every 4 steps
const steps = [];
for (let i = 0; i < stepCount; i++) {
  steps.push((i - 1) % 4 === 0 ? dayLabels[(i - 1) / 4] : String(i));
}
const isDayStep = (i) => (i - 1) % 4 === 0;

const rainToSeries = (pairs) => {
  const out = new Array(stepCount).fill(0);
  pairs.forEach((p) => { out[p[0]] = p[1]; });
  return out;
};

const markers = ['circle','diamond','triangle','rect'];
const series = [];
const addLine = (data, color, axis, width, marker) => {
  series.push({
    type: 'line', data: data, yAxisIndex: axis, silent: true, animation: false,
    symbol: marker || 'none', symbolSize: 3, showSymbol: !!marker,
    itemStyle: { color: color }, lineStyle: { color: color, width: width }
  });
};
// GFS and control go under the members, the mean on top of everything
addLine(rainToSeries(rainGfs), '#000', 1, 3);
addLine(t500Gfs, '#000', 0, 3);
addLine(t850Gfs, '#000', 0, 3);
addLine(rainToSeries(rainControl), '#0000ff', 1, 3);
addLine(t500Control, '#0000ff', 0, 3);
addLine(t850Control, '#0000ff', 0, 3);
memberIds.forEach((id, i) => {
  const marker = markers[i % markers.length];
  addLine(rainToSeries(rainPerts[i]), memberColors[i], 1, 1, marker);
  addLine(t500Perts[i], memberColors[i], 0, 1, marker);
  addLine(t850Perts[i], memberColors[i], 0, 1, marker);
});
addLine(rainToSeries(rainMean), '#ff0000', 1, 4);
addLine(t500Mean, '#ff0000', 0, 4);
addLine(t850Mean, '#ff0000', 0, 4);

const label = (text, x, y, extra) => ({
  type: 'text', x: x, y: y, silent: true, z: 100,
  style: Object.assign({ text: text, font: '10px "' + font + '"', fill: '#000', textVerticalAlign: 'middle' }, extra || {})
});
const legendBar = (x, y, color) => ({ type: 'rect', silent: true, shape: { x: x, y: y, width: 31, height: 4 }, style: { fill: color } });

const graphics = [
  label('Temp. 850hPa', 59, 107), label('Temp. 500hPa', 59, 294), label('Précipitations', 59, 530),
  label('(°C)', 20, 606), label('Alt. 8m', 9, 623), label('(mm)', 711, 606),
  legendBar(35, 635, '#ff0000'), label('Moyenne des scénarios', 75, 637),
  legendBar(225, 635, '#0000ff'), label('Run de contrôle', 264, 637),
  legendBar(225, 645, '#000'), label('Run GFS', 264, 647),
  label('30 Perts.', 340, 652),
  label('❄', 54, 658, { font: '15px "DejaVu Sans"', fill: '#5ab0f0' }), label('Risque neige', 75, 659),
  { type: 'rect', silent: true, shape: { x: 20.5, y: 667.5, width: 420, height: 32 }, style: { fill: '#fff', stroke: '#000', lineWidth: 1 } },
  label('Diagramme des ensembles GEFS sur 384h : 45N 11.5E', 30, 677, { font: 'bold 11.6px "' + font + '"' }),
  label('Températures 850hPa et 500hPa (°C) , précipitations (mm)', 30, 692),
  label('Ensemble GEFS du 31/05/2025 - 18Z', 450, 675),
  label('Copyright 2025 Meteociel.fr', 450, 692, { font: 'bold 11.6px "' + font + '"' })
];
memberIds.forEach((id, i) => {
  graphics.push({ type: 'rect', silent: true, shape: { x: 400 + i * 11, y: 650, width: 10, height: 6 }, style: { fill: memberColors[i] } });
  graphics.push(label(id, 405 + i * 11, 644, { font: '8px "' + font + '"', textAlign: 'center' }));
});

const chart = echarts.init(document.getElementById('chart'), null, { renderer: 'canvas' });
const yMin = -52.714, yMax = 33, rightShift = 45;
const gridY = (custom, color, width) => ({
  type: 'value', min: yMin, max: yMax, position: 'left', z: 0,
  axisLine: { show: false }, axisLabel: { show: false },
  axisTick: { show: false, customValues: custom },
  splitLine: { show: true, lineStyle: { color: color, width: width } }
});

chart.setOption({
  animation: false,
  textStyle: { fontFamily: font },
  grid: { left: 50, right: 50, top: 0, bottom: 100, containLabel: false },
  xAxis: {
    type: 'category', data: steps, boundaryGap: false,
    axisLine: { onZero: false, lineStyle: { color: '#000', width: 1 } },
    axisTick: { show: false },
    axisLabel: {
      interval: (i) => isDayStep(i), rotate: 90, margin: 2, fontSize: 10, color: '#000',
      fontFamily: font, verticalAlign: 'top', align: 'right', lineHeight: 16
    },
    splitLine: { show: true, interval: (i) => isDayStep(i), lineStyle: { color: '#bbb', width: 1 } }
  },
  yAxis: [
    {
      type: 'value', min: yMin, max: yMax, position: 'left',
      axisLine: { show: true, onZero: false, lineStyle: { color: '#000', width: 1 } },
      axisTick: { show: false, customValues: leftTicks },
      axisLabel: { customValues: leftTicks, margin: 18, fontSize: 10, color: '#000', fontFamily: font, padding: [4, 0, 0, 0] },
      splitLine: { show: true, lineStyle: { color: '#bbb', width: 1 } }
    },
    {
      type: 'value', min: yMin + rightShift, max: yMax + rightShift, position: 'right',
      axisLine: { show: true, onZero: false, lineStyle: { color: '#000', width: 1 } },
      axisTick: { show: false, customValues: rightTicks },
      axisLabel: { customValues: rightTicks, margin: 20, fontSize: 10, color: '#000', fontFamily: font, padding: [4, 0, 0, 0] },
      splitLine: { show: false }
    },
    gridY(heavyLines, '#bbb', 2),
    gridY([0], '#999', 3)
  ],
  series: series,
  graphic: graphics
});
</script>
</body>
</html>
